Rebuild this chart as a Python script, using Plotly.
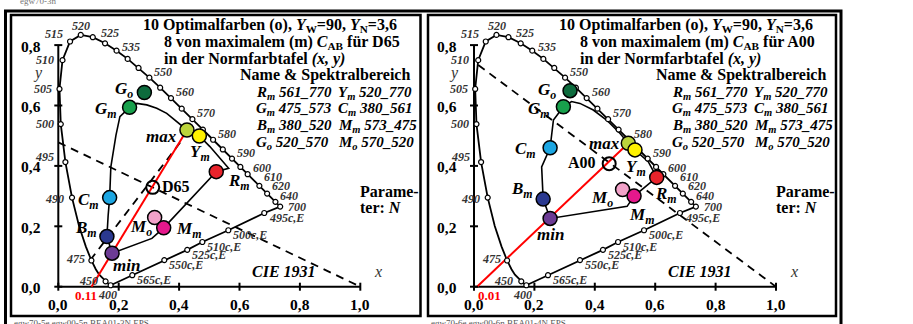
import plotly.graph_objects as go

W, H = 913, 324
SERIF = "Liberation Serif"
S = 302.0  # pixels per chromaticity unit

# ---------------- data ----------------
# CIE 1931 spectral locus (x, y)
locus_nm = [400, 410, 420, 425, 430, 435, 440, 445, 450, 455, 460, 465, 470, 475, 480, 485, 490,
            495, 500, 505, 510, 515, 520, 525, 530, 535, 540, 545, 550, 555, 560, 565, 570, 575,
            580, 585, 590, 595, 600, 605, 610, 615, 620, 625, 630, 640, 650, 660, 680, 700]
locus_x = [0.1733, 0.1726, 0.1714, 0.1703, 0.1689, 0.1669, 0.1644, 0.1611, 0.1566, 0.1510, 0.1440,
           0.1355, 0.1241, 0.1096, 0.0913, 0.0687, 0.0454, 0.0235, 0.0082, 0.0039, 0.0139, 0.0389,
           0.0743, 0.1142, 0.1547, 0.1929, 0.2296, 0.2658, 0.3016, 0.3373, 0.3731, 0.4087, 0.4441,
           0.4788, 0.5125, 0.5448, 0.5752, 0.6029, 0.6270, 0.6482, 0.6658, 0.6801, 0.6915, 0.7006,
           0.7079, 0.7190, 0.7260, 0.7300, 0.7334, 0.7347]
locus_y = [0.0048, 0.0048, 0.0051, 0.0058, 0.0069, 0.0086, 0.0109, 0.0138, 0.0177, 0.0227, 0.0297,
           0.0399, 0.0578, 0.0868, 0.1327, 0.2007, 0.2950, 0.4127, 0.5384, 0.6548, 0.7502, 0.8120,
           0.8338, 0.8262, 0.8059, 0.7816, 0.7543, 0.7243, 0.6923, 0.6589, 0.6245, 0.5896, 0.5547,
           0.5202, 0.4866, 0.4544, 0.4242, 0.3965, 0.3725, 0.3514, 0.3340, 0.3197, 0.3083, 0.2993,
           0.2920, 0.2809, 0.2740, 0.2700, 0.2666, 0.2653]

dot_nm = [400, 450, 475, 490, 495, 500, 505, 510, 515, 520, 525, 530, 535, 540, 545, 550, 555, 560,
          565, 570, 575, 580, 585, 590, 595, 600, 610, 620, 640, 700]

# wavelength label: (nm, anchor, dx px, dy px)
label_nm = [(400, "center", -3.5, 10), (450, "right", -6, 0), (475, "right", -4, -1),
            (490, "right", -6, 1), (495, "right", -9, -5), (500, "right", -5, 0),
            (505, "right", -5, 0), (510, "right", -7, 0), (515, "right", -5, -7),
            (520, "center", 0.5, -9), (525, "left", 6, -4.5), (535, "left", 3.5, -4),
            (550, "left", 3, -6), (560, "left", 3, -6.5), (570, "left", 2.5, -6.5),
            (580, "left", 3, -5.7), (590, "left", 3, -5.3), (600, "left", 3, -6.5),
            (610, "left", 3, -9), (620, "left", 3, -8), (640, "left", 3, -6), (700, "left", 6, 0)]

# purple line (700 nm to 400 nm) with complementary points
purple_lbl = ["495c,E", "500c,E", "510c,E", "525c,E", "550c,E", "565c,E"]
purple_x = [0.682, 0.563, 0.477, 0.427, 0.351, 0.245]
purple_y = [0.244, 0.187, 0.148, 0.122, 0.088, 0.038]

# optimal colours
color_lbl = ["G<sub>o</sub>", "G<sub>m</sub>", "max", "Y<sub>m</sub>", "R<sub>m</sub>",
             "C<sub>m</sub>", "M<sub>o</sub>", "M<sub>m</sub>", "B<sub>m</sub>", "min"]
fill_colors = ["#0d6b3d", "#18a04c", "#bcd43c", "#fff200", "#e8232b",
               "#1ca6e2", "#f2a2c9", "#e5188c", "#2b3990", "#6c3b94"]
d65_x = [0.285, 0.236, 0.426, 0.467, 0.523, 0.170, 0.319, 0.349, 0.161, 0.178]
d65_y = [0.643, 0.594, 0.519, 0.499, 0.381, 0.295, 0.229, 0.195, 0.166, 0.111]
a00_x = [0.318, 0.296, 0.511, 0.533, 0.605, 0.252, 0.492, 0.530, 0.229, 0.252]
a00_y = [0.649, 0.596, 0.475, 0.453, 0.362, 0.460, 0.322, 0.300, 0.290, 0.226]

# label placement per colour (anchor, dx, dy) for both panels
d65_lbl_pos = [("right", -9, -3), ("right", -11, 3), ("right", -8, 7), ("center", 1, 17),
               ("left", 10, 10), ("right", -9, 3), ("right", -1, 10), ("left", 10, 2),
               ("right", -8, -8), ("left", -1, 12)]
a00_lbl_pos = [("right", -12, 0), ("right", -11, 3), ("right", -6, 0), ("center", 1.5, 18),
               ("center", 9, 18), ("right", -12, 2), ("right", -8, 10), ("center", 7.5, 20),
               ("right", -8, -9), ("center", 0, 16)]

white_lbl = ["D65", "A00"]
white_x = [0.3127, 0.4476]
white_y = [0.3290, 0.4074]

loop_d65_x = [0.236, 0.260, 0.293, 0.326, 0.359, 0.392, 0.426, 0.467, 0.502, 0.564, 0.523,
              0.349, 0.310, 0.178, 0.161, 0.165, 0.170, 0.174, 0.191, 0.204, 0.236]
loop_d65_y = [0.594, 0.607, 0.602, 0.591, 0.574, 0.546, 0.519, 0.499, 0.464, 0.392, 0.381,
              0.195, 0.160, 0.111, 0.166, 0.235, 0.295, 0.397, 0.502, 0.563, 0.594]
loop_a00_x = [0.296, 0.323, 0.351, 0.395, 0.439, 0.483, 0.511, 0.533, 0.577, 0.605, 0.530,
              0.507, 0.252, 0.229, 0.224, 0.252, 0.263, 0.296]
loop_a00_y = [0.596, 0.613, 0.607, 0.585, 0.552, 0.508, 0.475, 0.453, 0.414, 0.362, 0.300,
              0.266, 0.226, 0.290, 0.397, 0.460, 0.552, 0.596]

red_x0 = [0.11, 0.01]
red_lbl = ["0.11", "0.01"]

dash_d65_x = [0.0, 1.0]
dash_d65_y = [0.478, 0.0]
dash2_d65_x = [0.106, 0.41]
dash2_d65_y = [0.088, 0.486]
dash_a00_x = [0.014, 1.0]
dash_a00_y = [0.734, 0.0]

x_ticks = [0.0, 0.2, 0.4, 0.6, 0.8, 1.0]
x_tick_text = ["0,0", "0,2", "0,4", "0,6", "0,8", "1,0"]
y_ticks = [0.0, 0.2, 0.4, 0.6, 0.8]
y_tick_text = ["0,0", "0,2", "0,4", "0,6", "0,8"]

title_lines = ["<b>10 Optimalfarben (o), <i>Y</i><sub>W</sub>=90, <i>Y</i><sub>N</sub>=3,6</b>",
               "<b>8 von maximalem (m) <i>C</i><sub>AB</sub> für {}</b>",
               "<b>in der Normfarbtafel <i>(x, y)</i></b>"]
table_head = "<b>Name &amp; Spektralbereich</b>"
table_c1 = ["R<sub>m</sub> 561_770", "G<sub>m</sub> 475_573", "B<sub>m</sub> 380_520", "G<sub>o</sub> 520_570"]
table_c2 = ["Y<sub>m</sub> 520_770", "C<sub>m</sub> 380_561", "M<sub>m</sub> 573_475", "M<sub>o</sub> 570_520"]
footer = ["egw70-5e egw00-5n BEA01-3N.EPS", "egw70-6e egw00-6n BEA01-4N.EPS"]

# ---------------- layout helpers ----------------
panels = [
    dict(xa="x", ya="y", ox=58.3, px0=12, px1=420, white=0, pts=(d65_x, d65_y), lpos=d65_lbl_pos,
         loop=(loop_d65_x, loop_d65_y), dashes=[(dash_d65_x, dash_d65_y), (dash2_d65_x, dash2_d65_y)]),
    dict(xa="x2", ya="y2", ox=474.0, px0=429, px1=835, white=1, pts=(a00_x, a00_y), lpos=a00_lbl_pos,
         loop=(loop_a00_x, loop_a00_y), dashes=[(dash_a00_x, dash_a00_y)]),
]
OY = 286.7
PY0, PY1 = 16, 315

fig = go.Figure()
ann = []
shapes = []


def px(x):
    return x / W


def py(y):
    return 1 - y / H


def lab(text, xr, yr, x, y, anchor, dx, dy, size, color="black"):
    ann.append(dict(text=text, x=x, y=y, xref=xr, yref=yr, xanchor=anchor, yanchor="middle",
                    xshift=dx, yshift=-dy, showarrow=False,
                    font=dict(family=SERIF, size=size, color=color)))


def ptext(text, x, y, anchor, size, color="black"):
    ann.append(dict(text=text, x=px(x), y=py(y), xref="paper", yref="paper", xanchor=anchor,
                    yanchor="middle", showarrow=False, font=dict(family=SERIF, size=size, color=color)))


lay = {}
for i, p in enumerate(panels):
    xa, ya = p["xa"], p["ya"]
    xname = "xaxis" if xa == "x" else "xaxis2"
    yname = "yaxis" if ya == "y" else "yaxis2"
    lay[xname] = dict(domain=[px(p["px0"]), px(p["px1"])],
                      range=[(p["px0"] - p["ox"]) / S, (p["px1"] - p["ox"]) / S],
                      visible=False, anchor=ya, fixedrange=True)
    lay[yname] = dict(domain=[py(PY1), py(PY0)],
                      range=[(OY - PY1) / S, (OY - PY0) / S],
                      visible=False, anchor=xa, fixedrange=True)
    ox = p["ox"]
    shift = ox - 58.3

    # dashed lines
    for dx_, dy_ in p["dashes"]:
        fig.add_trace(go.Scatter(x=dx_, y=dy_, xaxis=xa, yaxis=ya, mode="lines",
                                 line=dict(color="black", width=1.8, dash="8px,6px"), hoverinfo="skip"))
    # axes
    fig.add_trace(go.Scatter(x=[x_ticks[0], x_ticks[-1]], y=[0, 0], xaxis=xa, yaxis=ya, mode="lines",
                             line=dict(color="black", width=2), hoverinfo="skip"))
    fig.add_trace(go.Scatter(x=[0, 0], y=[y_ticks[0], y_ticks[-1]], xaxis=xa, yaxis=ya, mode="lines",
                             line=dict(color="black", width=2), hoverinfo="skip"))
    for t, tt in zip(x_ticks, x_tick_text):
        shapes.append(dict(type="line", xref=xa, yref=ya, x0=t, x1=t, ysizemode="pixel", yanchor=0,
                           y0=-4, y1=4, line=dict(color="black", width=2)))
        lab("<b>%s</b>" % tt, xa, ya, t, 0, "center", 0, 18, 15.5)
    for t, tt in zip(y_ticks, y_tick_text):
        shapes.append(dict(type="line", xref=xa, yref=ya, y0=t, y1=t, xsizemode="pixel", xanchor=0,
                           x0=-4, x1=4, line=dict(color="black", width=2)))
        lab("<b>%s</b>" % tt, xa, ya, 0, t, "right", -15, 1, 15.5)

    # spectral locus and purple line
    fig.add_trace(go.Scatter(x=locus_x, y=locus_y, xaxis=xa, yaxis=ya, mode="lines",
                             line=dict(color="black", width=1.8), hoverinfo="skip"))
    fig.add_trace(go.Scatter(x=[locus_x[-1]] + purple_x + [locus_x[0]],
                             y=[locus_y[-1]] + purple_y + [locus_y[0]], xaxis=xa, yaxis=ya,
                             mode="lines", line=dict(color="black", width=1.8), hoverinfo="skip"))
    # optimal colour loop
    fig.add_trace(go.Scatter(x=p["loop"][0], y=p["loop"][1], xaxis=xa, yaxis=ya, mode="lines",
                             line=dict(color="black", width=1.6), hoverinfo="skip"))
    # red line min-max
    mx, my = p["pts"][0][2], p["pts"][1][2]
    fig.add_trace(go.Scatter(x=[red_x0[i], mx], y=[0, my], xaxis=xa, yaxis=ya, mode="lines",
                             line=dict(color="#ff0000", width=2), hoverinfo="skip"))
    lab("<b>%s</b>" % red_lbl[i], xa, ya, red_x0[i], 0, "center", -5.5 if i == 0 else 12, 9, 13, "#ff0000")

    # locus dots
    sx = [locus_x[locus_nm.index(n)] for n in dot_nm]
    sy = [locus_y[locus_nm.index(n)] for n in dot_nm]
    fig.add_trace(go.Scatter(x=sx + purple_x, y=sy + purple_y, xaxis=xa, yaxis=ya, mode="markers",
                             marker=dict(symbol="circle", size=5, color="white",
                                         line=dict(color="black", width=1.2)), hoverinfo="skip"))
    for n, a, dx, dy in label_nm:
        k = locus_nm.index(n)
        lab("<b><i>%d</i></b>" % n, xa, ya, locus_x[k], locus_y[k], a, dx, dy, 12, "#333333")
    for t, x, y in zip(purple_lbl, purple_x, purple_y):
        lab("<b><i>%s</i></b>" % t, xa, ya, x, y, "left", 3, 5, 12, "#333333")

    # white point
    fig.add_trace(go.Scatter(x=[white_x[p["white"]]], y=[white_y[p["white"]]], xaxis=xa, yaxis=ya,
                             mode="markers", marker=dict(symbol="circle-open", size=13, color="black",
                                                         line=dict(color="black", width=2)),
                             hoverinfo="skip"))
    lab("<b>%s</b>" % white_lbl[p["white"]], xa, ya, white_x[p["white"]], white_y[p["white"]],
        "left" if i == 0 else "right", 7 if i == 0 else -11, -1, 16)

    # colour points
    fig.add_trace(go.Scatter(x=p["pts"][0], y=p["pts"][1], xaxis=xa, yaxis=ya, mode="markers",
                             marker=dict(size=14, color=fill_colors, line=dict(color="black", width=1.5)),
                             hoverinfo="skip"))
    for t, x, y, (a, dx, dy) in zip(color_lbl, p["pts"][0], p["pts"][1], p["lpos"]):
        lab("<b><i>%s</i></b>" % t, xa, ya, x, y, a, dx, dy, 17)

    # texts
    tx = 141 + shift
    ptext(title_lines[0], tx, 25, "left", 16)
    ptext(title_lines[1].format(white_lbl[p["white"]]), tx + 21, 42.5, "left", 16)
    ptext(title_lines[2], tx + 21, 58.5, "left", 16)
    ptext(table_head, 238 + shift, 75, "left", 16)
    for r, (c1, c2) in enumerate(zip(table_c1, table_c2)):
        ptext("<b><i>%s</i></b>" % c1, 254 + shift, 92.5 + r * 16.7, "left", 15)
        ptext("<b><i>%s</i></b>" % c2, 336 + shift, 92.5 + r * 16.7, "left", 15)
    ptext("<b>Parame-</b>", 358 + shift, 191.5, "left", 16)
    ptext("<b>ter: <i>N</i></b>", 358 + shift, 207.5, "left", 16)
    ptext("<b><i>CIE 1931</i></b>", 284 + shift, 271, "center", 16)
    ptext("<i>x</i>", 378 + shift, 271, "center", 16, "#333333")
    ptext("<i>y</i>", 38 + shift, 72.5, "center", 16, "#333333")
    ptext(footer[i], 12 + (0 if i == 0 else 417), 322.5, "left", 9, "#555555")

ptext("egw70-3n", 18, 1, "left", 9, "#777777")

# frames
shapes.append(dict(type="rect", xref="paper", yref="paper", x0=px(5.5), x1=px(841), y0=py(H + 10),
                   y1=py(11), line=dict(color="black", width=3)))
shapes.append(dict(type="rect", xref="paper", yref="paper", x0=px(11), x1=px(420.5), y0=py(316),
                   y1=py(15), line=dict(color="black", width=2.5)))
shapes.append(dict(type="rect", xref="paper", yref="paper", x0=px(428), x1=px(836), y0=py(316),
                   y1=py(15), line=dict(color="black", width=2.5)))

fig.update_layout(template="none", width=W, height=H, margin=dict(l=0, r=0, t=0, b=0),
                  showlegend=False, font=dict(family=SERIF, color="black"), hovermode=False,
                  paper_bgcolor="white", plot_bgcolor="rgba(0,0,0,0)", annotations=ann,
                  shapes=shapes, **lay)
fig.write_html("out.html", config={"displayModeBar": False, "staticPlot": True},
               post_script="document.body.style.margin='0';")
